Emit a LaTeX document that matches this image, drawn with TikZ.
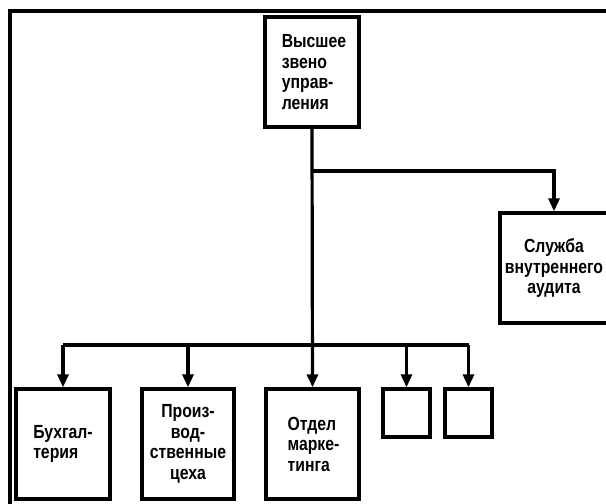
\documentclass[tikz,border=0pt]{standalone}
\usepackage{fontspec}
\setmainfont{Liberation Sans}[FakeStretch=0.83]
\usetikzlibrary{arrows.meta}
\tikzset{
  x=1pt,y=-1pt,
  box/.style={draw,line width=3.4pt,rectangle,inner sep=0pt,
    font=\fontsize{19}{20.5}\selectfont\bfseries},
  conn/.style={line width=3.2pt},
  arr/.style={conn,-{Triangle[length=13pt,width=11pt]}},
}
\begin{document}
\begin{tikzpicture}
\useasboundingbox (0,0) rectangle (606,504);
\clip (0,0) rectangle (606,504);
\draw[line width=4.5pt] (10,510) -- (10,11) -- (612,11);
\node[box,minimum width=94pt,minimum height=110pt,align=left] (top) at (312,72) {\hspace*{4pt}Высшее\\\hspace*{4pt}звено\\\hspace*{4pt}управ-\\\hspace*{4pt}ления};
\node[box,minimum width=108pt,minimum height=110pt,align=center] (audit) at (554,268) {Служба\\внутреннего\\аудита};
\node[box,minimum width=94pt,minimum height=110pt,align=left] (b1) at (63,444) {Бухгал-\\терия};
\node[box,minimum width=92pt,minimum height=110pt,align=center] (b2) at (188,444) {Произ-\\вод-\\ственные\\цеха};
\node[box,minimum width=93pt,minimum height=110pt,align=left] (b3) at (312.5,444) {\hspace*{2pt}Отдел\\\hspace*{2pt}марке-\\\hspace*{2pt}тинга};
\node[box,minimum width=47pt,minimum height=48pt] (s1) at (406.5,413) {};
\node[box,minimum width=47pt,minimum height=48pt] (s2) at (468.5,413) {};
\coordinate (j1) at (312,171);
\coordinate (bus) at (312,345);
\draw[arr] (top.south) -- (b3.north);
\draw[arr] (j1) -| (audit.north);
\draw[conn] (b1.north |- bus) -- (s2.north |- bus);
\draw[arr] (b1.north |- bus) -- (b1.north);
\draw[arr] (b2.north |- bus) -- (b2.north);
\draw[arr] (s1.north |- bus) -- (s1.north);
\draw[arr] (s2.north |- bus) -- (s2.north);
\end{tikzpicture}
\end{document}
